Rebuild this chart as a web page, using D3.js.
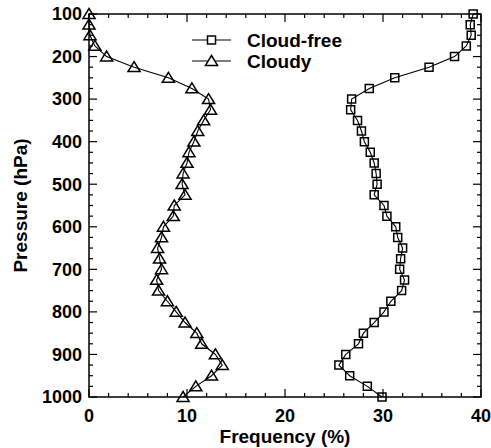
<!DOCTYPE html>
<html>
<head>
<meta charset="utf-8">
<script src="https://cdn.jsdelivr.net/npm/d3@7"></script>
<style>
  body { margin: 0; background: #fff; }
  svg { display: block; font-family: "Liberation Sans", Arial, Helvetica, sans-serif; font-weight: bold; }
</style>
</head>
<body>
<div id="chart"></div>
<script>
// pressure levels (hPa), every 25 hPa
const pressure = d3.range(100, 1001, 25);

const cloudFree = [39.2, 38.9, 39.0, 38.5, 37.3, 34.7, 31.2, 28.6, 26.8, 26.7,
  27.4, 27.8, 28.1, 28.7, 29.1, 29.3, 29.4, 29.1, 30.1, 30.4,
  31.3, 31.5, 32.0, 31.8, 31.7, 32.2, 31.9, 30.8, 30.1, 29.1,
  28.0, 27.5, 26.2, 25.5, 26.6, 28.4, 29.9];

const cloudy = [0.0, 0.0, 0.1, 0.6, 1.8, 4.6, 8.1, 10.5, 12.2, 12.4,
  11.7, 11.1, 10.7, 10.2, 10.0, 9.6, 9.5, 9.8, 8.7, 8.6,
  7.6, 7.4, 7.0, 7.2, 7.4, 6.9, 7.1, 8.0, 8.9, 9.8,
  11.0, 11.5, 12.9, 13.6, 12.5, 10.9, 9.6];

const xTicks = [0, 10, 20, 30, 40];
const yTicks = [100, 200, 300, 400, 500, 600, 700, 800, 900, 1000];

const width = 491, height = 448;
const margin = { top: 14, right: 10, bottom: 51, left: 89 };

const svg = d3.select('#chart').append('svg')
  .attr('width', width)
  .attr('height', height);

const x = d3.scaleLinear().domain([0, 40]).range([margin.left, width - margin.right]);
const y = d3.scaleLinear().domain([100, 1000]).range([margin.top, height - margin.bottom]);

const x0 = x.range()[0], x1 = x.range()[1];
const y0 = y.range()[0], y1 = y.range()[1];

// inward ticks on all four sides (minor + major)
const xMinor = d3.range(0, 40.01, 2);
const yMinor = d3.range(100, 1000.01, 25);
const tickG = svg.append('g').attr('stroke', '#000').attr('stroke-width', 1.2);

xMinor.forEach(v => {
  const len = v % 10 === 0 ? 8 : 4;
  tickG.append('line').attr('x1', x(v)).attr('x2', x(v)).attr('y1', y1).attr('y2', y1 - len);
  tickG.append('line').attr('x1', x(v)).attr('x2', x(v)).attr('y1', y0).attr('y2', y0 + len);
});
yMinor.forEach(v => {
  const len = v % 100 === 0 ? 8 : 4;
  tickG.append('line').attr('y1', y(v)).attr('y2', y(v)).attr('x1', x0).attr('x2', x0 + len);
  tickG.append('line').attr('y1', y(v)).attr('y2', y(v)).attr('x1', x1).attr('x2', x1 - len);
});

// frame
svg.append('rect')
  .attr('x', x0).attr('y', y0)
  .attr('width', x1 - x0).attr('height', y1 - y0)
  .attr('fill', 'none').attr('stroke', '#000').attr('stroke-width', 1.5);

// tick labels
svg.append('g').selectAll('text').data(xTicks).enter().append('text')
  .attr('x', d => x(d)).attr('y', y1 + 25)
  .attr('text-anchor', 'middle')
  .style('font-size', '18px')
  .text(d => d);

svg.append('g').selectAll('text').data(yTicks).enter().append('text')
  .attr('x', x0 - 7).attr('y', d => y(d))
  .attr('dy', '0.35em')
  .attr('text-anchor', 'end')
  .style('font-size', '18px')
  .text(d => d);

// axis titles
svg.append('text')
  .attr('x', (x0 + x1) / 2).attr('y', y1 + 46)
  .attr('text-anchor', 'middle')
  .style('font-size', '19px')
  .text('Frequency (%)');

svg.append('text')
  .attr('transform', 'translate(27,' + (y0 + y1) / 2 + ') rotate(-90)')
  .attr('text-anchor', 'middle')
  .style('font-size', '19px')
  .text('Pressure (hPa)');

const line = d3.line().x(d => x(d[0])).y(d => y(d[1]));

const squarePath = s => `M${-s},${-s}h${2 * s}v${2 * s}h${-2 * s}Z`;
const trianglePath = s => `M0,${-s}L${s * 1.1},${s * 0.8}L${-s * 1.1},${s * 0.8}Z`;

const drawSeries = (vals, marker) => {
  const pts = vals.map((v, i) => [v, pressure[i]]);
  svg.append('path')
    .datum(pts)
    .attr('d', line)
    .attr('fill', 'none')
    .attr('stroke', '#000')
    .attr('stroke-width', 1.1);
  svg.append('g').selectAll('path').data(pts).enter().append('path')
    .attr('transform', d => 'translate(' + x(d[0]) + ',' + y(d[1]) + ')')
    .attr('d', marker)
    .attr('fill', 'none')
    .attr('stroke', '#000')
    .attr('stroke-width', 1.5);
};

drawSeries(cloudFree, squarePath(4));
drawSeries(cloudy, trianglePath(5.5));

// legend
const legend = [
  { label: 'Cloud-free', marker: squarePath(4), y: 40 },
  { label: 'Cloudy', marker: trianglePath(5.5), y: 61 }
];
legend.forEach(l => {
  svg.append('line').attr('x1', 192).attr('x2', 231).attr('y1', l.y).attr('y2', l.y)
    .attr('stroke', '#000').attr('stroke-width', 1.1);
  svg.append('path').attr('d', l.marker)
    .attr('transform', 'translate(211.5,' + l.y + ')')
    .attr('fill', '#fff').attr('stroke', '#000').attr('stroke-width', 1.5);
  svg.append('text').attr('x', 247).attr('y', l.y).attr('dy', '0.35em')
    .style('font-size', '19px').text(l.label);
});
</script>
</body>
</html>
